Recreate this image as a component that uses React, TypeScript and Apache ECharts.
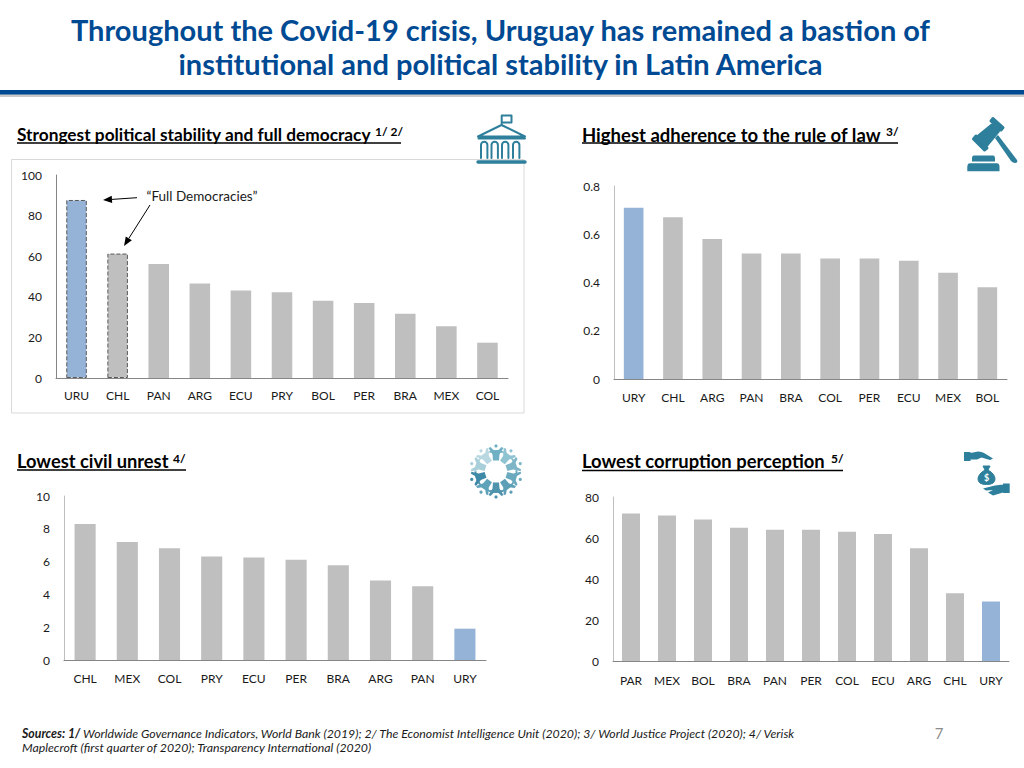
import React, { useEffect, useRef } from "react";
import * as echarts from "echarts";

const stabilityCats = ["URU", "CHL", "PAN", "ARG", "ECU", "PRY", "BOL", "PER", "BRA", "MEX", "COL"];
const stabilityVals = [87.7, 61.3, 56.1, 46.5, 43.1, 42.3, 38, 37, 31.7, 25.5, 17.4];
const lawCats = ["URY", "CHL", "ARG", "PAN", "BRA", "COL", "PER", "ECU", "MEX", "BOL"];
const lawVals = [0.71, 0.67, 0.58, 0.52, 0.52, 0.5, 0.5, 0.49, 0.44, 0.38];
const unrestCats = ["CHL", "MEX", "COL", "PRY", "ECU", "PER", "BRA", "ARG", "PAN", "URY"];
const unrestVals = [8.29, 7.19, 6.82, 6.31, 6.25, 6.11, 5.78, 4.85, 4.5, 1.91];
const corruptionCats = ["PAR", "MEX", "BOL", "BRA", "PAN", "PER", "COL", "ECU", "ARG", "CHL", "URY"];
const corruptionVals = [72, 71, 69, 65, 64, 64, 63, 62, 55, 33, 29];

const titleLines = [
  "Throughout the Covid-19 crisis, Uruguay has remained a bastion of",
  "institutional and political stability in Latin America",
];
const FONT = "Lato, Carlito, 'Open Sans', sans-serif";
const BLUE = "#95b3d7";
const GREY = "#bfbfbf";
const TEAL = "#2e7f9b";

const paths: Record<string, string> = {
  bldOutline:
    "M501.7 125V115.5H511.5V122.5H501.7 M501.5 125L478 136.5H525L501.5 125Z M478.5 138.5H525 M481 158V145a3.2 3.2 0 0 1 6.4 0V158 M491.5 158V145a3.2 3.2 0 0 1 6.4 0V158 M502 158V145a3.2 3.2 0 0 1 6.4 0V158 M513 158V145a3.2 3.2 0 0 1 6.4 0V158",
  bldBase: "M478 162H525",
  gavelHead: "M993 118.5L1003 127.5L1001 130L991 121Z M976 136L987 148L984.5 150L973.5 139Z M992 125L998.5 131L987 145L978.5 136Z",
  gavelHandle: "M995 138L998 135L1017 160Q1018 163 1015 163Q1013 163 1011 161Z",
  gavelBase: "M974 155.5H993Q995 155.5 995 158.5V161.5H972V158.5Q972 155.5 974 155.5Z M970 163.2H997Q999.5 163.2 999.5 167V171.3H967.3V167Q967.3 163.2 970 163.2Z",
  handTop: "M964 452H970.5V461H964Z M970.5 453L978 451.5Q982 451.5 984 453L993 458.5L990 460L981.5 457.5L977 459.5H970.5Z",
  handBottom: "M1003 483.5H1009.7V493H1003Z M1003 484.5L995 485.5L983 488.5L986 490.5L993 490L988 492.5L993 495.5L1003 492.5Z",
  bag: "M983 466H990L988 470Q995 474 995 479Q995 484.5 986.5 484.5Q978 484.5 978 479Q978 474 985 470Z",
  person:
    "M-3 -11L3 -11L3.5 -17L7.5 -23.5L5.5 -24.5L1.5 -20.5H-1.5L-5.5 -24.5L-7.5 -23.5L-3.5 -17Z",
};
Object.entries(paths).forEach(([k, d]) => {
  echarts.graphic.registerShape(k, echarts.graphic.extendPath(d as any, {}) as any);
});

const shape = (type: string, style: any) => ({ type, x: 0, y: 0, silent: true, style });

const text = (value: string, x: number, y: number, size: number, extra: any = {}) => ({
  type: "text",
  silent: true,
  style: {
    text: value, x, y, fontFamily: FONT, fontSize: size, fill: "#000",
    textAlign: "left", textVerticalAlign: "middle", ...extra,
  },
});

const heading = (label: string, size: number, sup: string, x: number, y: number, supX: number, endX: number, lineY: number) => [
  text(label, x, y, size, { fontWeight: "bold" }),
  text(sup, supX, y - 3, 12, { fontWeight: "bold" }),
  { type: "line", silent: true, shape: { x1: x, y1: lineY, x2: endX, y2: lineY }, style: { stroke: "#000", lineWidth: 1.4 } },
];

const arrow = (x1: number, y1: number, x2: number, y2: number) => {
  const a = Math.atan2(y2 - y1, x2 - x1);
  const L = 9, W = 3.6;
  const bx = x2 - L * Math.cos(a), by = y2 - L * Math.sin(a);
  const nx = -Math.sin(a) * W, ny = Math.cos(a) * W;
  return [
    { type: "line", silent: true, shape: { x1, y1, x2: bx, y2: by }, style: { stroke: "#000", lineWidth: 1 } },
    { type: "polygon", silent: true, shape: { points: [[x2, y2], [bx + nx, by + ny], [bx - nx, by - ny]] }, style: { fill: "#000" } },
  ];
};

const peopleColors = ["#6fb0c4", "#8fc3d2", "#7eb6c8", "#6aa9be", "#5c9fb6", "#4f93ac", "#5ea3b9", "#3f8aa6", "#a9cfda", "#b9d8e1"];
const peopleRing = () => {
  const cx = 496, cy = 471.5;
  const out: any[] = [];
  peopleColors.forEach((c, i) => {
    const rot = (-i * 2 * Math.PI) / peopleColors.length;
    out.push({ type: "person", x: cx, y: cy, rotation: rot, silent: true, style: { fill: c } });
    out.push({
      type: "circle", silent: true,
      shape: { cx: cx + 25.5 * Math.sin(-rot), cy: cy - 25.5 * Math.cos(-rot), r: 1.6 },
      style: { fill: c },
    });
    out.push({
      type: "arc", silent: true,
      shape: { cx, cy, r: 20.5, startAngle: -Math.PI / 2 - rot - 0.33, endAngle: -Math.PI / 2 - rot + 0.33 },
      style: { stroke: c, lineWidth: 1.8, fill: "none" },
    });
  });
  return out;
};

const footer = (parts: any, x: number, y: number) => ({
  type: "text",
  silent: true,
  style: { ...parts, x, y, fontFamily: FONT, fontSize: 12.3, fontStyle: "italic", fill: "#1a1a1a", textVerticalAlign: "middle" },
});

type Panel = { cats: string[]; vals: number[]; max: number; interval: number; left: number; right: number; top: number; bottom: number; yLine: string; labelGap: number };
const panels: Panel[] = [
  { cats: stabilityCats, vals: stabilityVals, max: 100, interval: 20, left: 56, right: 508, top: 175, bottom: 378, yLine: "#868686", labelGap: 11 },
  { cats: lawCats, vals: lawVals, max: 0.8, interval: 0.2, left: 614, right: 1007, top: 186, bottom: 379, yLine: "#bfbfbf", labelGap: 12 },
  { cats: unrestCats, vals: unrestVals, max: 10, interval: 2, left: 64, right: 486, top: 496, bottom: 660, yLine: "#bfbfbf", labelGap: 12 },
  { cats: corruptionCats, vals: corruptionVals, max: 80, interval: 20, left: 613, right: 1009, top: 497, bottom: 661, yLine: "#bfbfbf", labelGap: 13 },
];

export default function App() {
  const ref = useRef<HTMLDivElement>(null);
  useEffect(() => {
    const chart = echarts.init(ref.current!, undefined, { renderer: "svg" });
    const labelStyle = { fontFamily: FONT, fontSize: 12, color: "#1a1a1a" };
    chart.setOption({
      animation: false,
      backgroundColor: "#fff",
      grid: panels.map((p) => ({ left: p.left, top: p.top, width: p.right - p.left, height: p.bottom - p.top, containLabel: false })),
      xAxis: panels.map((p, i) => ({
        type: "category", gridIndex: i, data: p.cats,
        axisTick: { show: false },
        axisLine: { lineStyle: { color: "#868686", width: 1 } },
        axisLabel: { ...labelStyle, margin: p.labelGap, interval: 0 },
      })),
      yAxis: panels.map((p, i) => ({
        type: "value", gridIndex: i, min: 0, max: p.max, interval: p.interval,
        splitLine: { show: false },
        axisTick: { show: false },
        axisLine: { show: true, lineStyle: { color: p.yLine, width: 1 } },
        axisLabel: { ...labelStyle, margin: 14 },
      })),
      series: panels.map((p, i) => ({
        type: "bar", xAxisIndex: i, yAxisIndex: i, barWidth: "50%",
        data: p.vals.map((v, j) => {
          const own = p.cats[j] === "URU" || p.cats[j] === "URY";
          const dashed = i === 0 && j < 2;
          return {
            value: v,
            itemStyle: {
              color: own ? BLUE : GREY,
              ...(dashed ? { borderColor: "#595959", borderWidth: 1, borderType: "dashed" } : {}),
            },
          };
        }),
      })),
      graphic: {
        elements: [
          { type: "rect", silent: true, shape: { x: 0, y: 94, width: 1024, height: 3 }, style: { fill: "#c9c9c9" } },
          { type: "rect", silent: true, shape: { x: 0, y: 90, width: 1024, height: 4.5 }, style: { fill: "#004a93" } },
          text(titleLines[0], 500.5, 29.5, 29, { fontWeight: "bold", fill: "#004a93", textAlign: "center" }),
          text(titleLines[1], 500.5, 63.5, 29, { fontWeight: "bold", fill: "#004a93", textAlign: "center" }),
          { type: "rect", silent: true, shape: { x: 11.5, y: 159.5, width: 512.5, height: 253.5 }, style: { fill: "none", stroke: "#d9d9d9", lineWidth: 1 } },
          ...heading("Strongest political stability and full democracy", 17.3, "1/ 2/", 17, 134.5, 375, 401, 143),
          ...heading("Highest adherence to the rule of law", 18.5, "3/", 582, 134.5, 886, 898, 143),
          ...heading("Lowest civil unrest", 18.3, "4/", 17, 461, 173, 186, 470),
          ...heading("Lowest corruption perception", 18.4, "5/", 582, 461, 831, 843, 470.5),
          text("“Full Democracies”", 202, 196, 13.5, { textAlign: "center", fill: "#1a1a1a" }),
          ...arrow(137, 197.7, 103, 200),
          ...arrow(150, 205, 124, 246),
          shape("bldOutline", { fill: "none", stroke: TEAL, lineWidth: 2, lineCap: "round", lineJoin: "round" }),
          shape("bldBase", { fill: "none", stroke: TEAL, lineWidth: 3.4, lineCap: "round" }),
          shape("gavelHead", { fill: TEAL, stroke: TEAL, lineWidth: 3, lineJoin: "round" }),
          shape("gavelHandle", { fill: TEAL }),
          shape("gavelBase", { fill: TEAL }),
          shape("handTop", { fill: TEAL }),
          shape("handBottom", { fill: TEAL }),
          shape("bag", { fill: TEAL, stroke: TEAL, lineWidth: 1, lineJoin: "round" }),
          text("$", 986.5, 477.5, 9, { fill: "#fff", textAlign: "center", fontWeight: "bold" }),
          ...peopleRing(),
          footer({
            text: "{b|Sources: 1/} Worldwide Governance Indicators, World Bank (2019); 2/ The Economist Intelligence Unit (2020); 3/ World Justice Project (2020); 4/ Verisk",
            rich: { b: { fontFamily: FONT, fontSize: 12.3, fontStyle: "italic", fontWeight: "bold", fill: "#1a1a1a" } },
          }, 22, 733),
          footer({ text: "Maplecroft (first quarter of 2020); Transparency International (2020)" }, 22, 747),
          text("7", 939, 733, 15, { fill: "#8c8c8c", textAlign: "center" }),
        ],
      },
    });
    return () => chart.dispose();
  }, []);
  return <div ref={ref} style={{ position: "absolute", left: 0, top: 0, width: 1024, height: 768 }} />;
}
